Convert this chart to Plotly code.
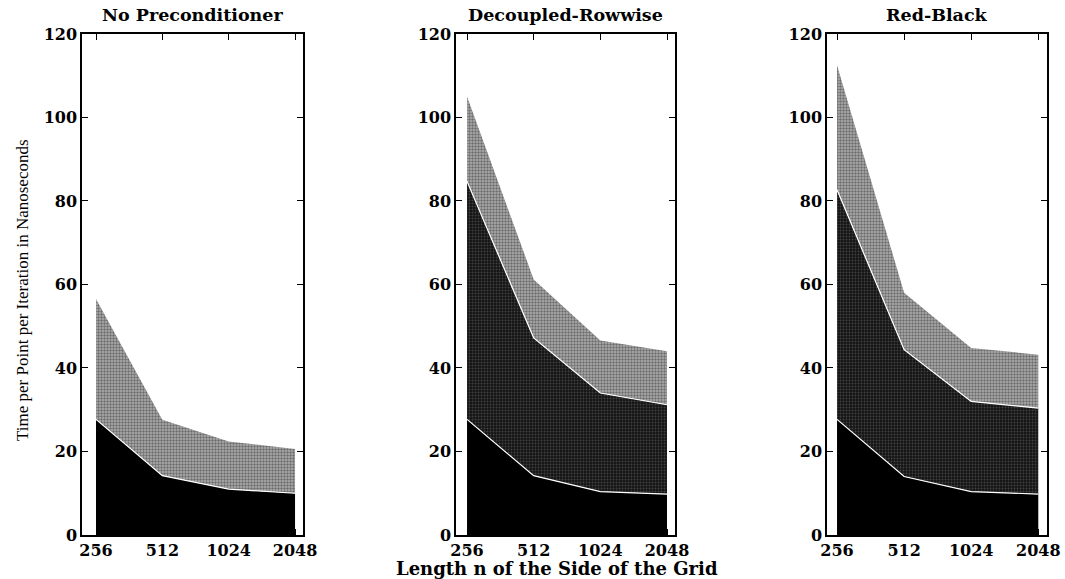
import plotly.graph_objects as go

sizes = ["256", "512", "1024", "2048"]
titles = ["No Preconditioner", "Decoupled-Rowwise", "Red-Black"]

# cumulative boundaries (top of each layer)
none_base = [27.7, 14.2, 11.0, 10.0]
none_total = [56.5, 27.6, 22.4, 20.6]

row_base = [27.7, 14.2, 10.4, 9.8]
row_mid = [84.7, 47.2, 34.0, 31.2]
row_total = [105.0, 61.2, 46.6, 44.0]

rb_base = [27.7, 14.0, 10.4, 9.8]
rb_mid = [82.7, 44.4, 32.0, 30.4]
rb_total = [112.5, 58.0, 44.8, 43.2]

yticks = [0, 20, 40, 60, 80, 100, 120]

panels = [
    [none_base, none_total],
    [row_base, row_mid, row_total],
    [rb_base, rb_mid, rb_total],
]

xdom = [(0.0770, 0.2845), (0.4282, 0.6338), (0.7765, 0.9831)]
xrng = [(-0.211, 3.12), (-0.165, 3.12), (-0.15, 3.13)]
ydom = (0.0760, 0.9413)

SERIF = "DejaVu Serif"

light = dict(fillcolor="#8f8f8f",
             fillpattern=dict(shape=".", bgcolor="#b0b0b0", fgcolor="#2a2a2a", size=3, solidity=0.5))
dark = dict(fillcolor="#1e1e1e",
            fillpattern=dict(shape=".", bgcolor="#141414", fgcolor="#707070", size=3, solidity=0.3))
styles_2 = [dict(fillcolor="black"), light]
styles_3 = [dict(fillcolor="black"), dark, light]

fig = go.Figure()
xs = [0, 1, 2, 3]
for i, layers in enumerate(panels):
    xa = "x" if i == 0 else f"x{i+1}"
    ya = "y" if i == 0 else f"y{i+1}"
    st = styles_2 if len(layers) == 2 else styles_3
    for j, vals in enumerate(layers):
        fig.add_trace(go.Scatter(
            x=xs, y=vals, xaxis=xa, yaxis=ya, mode="lines",
            line=dict(width=0, color="rgba(0,0,0,0)"),
            fill="tozeroy" if j == 0 else "tonexty",
            showlegend=False, hoverinfo="skip", **st[j]))
    for j, vals in enumerate(layers[:-1]):
        fig.add_trace(go.Scatter(
            x=xs, y=vals, xaxis=xa, yaxis=ya, mode="lines",
            line=dict(width=1.2, color="white"),
            showlegend=False, hoverinfo="skip"))

axis_common = dict(showline=True, linecolor="black", linewidth=1.5, mirror="ticks",
                   ticks="inside", ticklen=6, tickcolor="black", tickwidth=1.2,
                   showgrid=False, zeroline=False, automargin=False,
                   tickfont=dict(family=SERIF, size=16, color="black", weight="bold"))

layout = dict(width=1065, height=579, margin=dict(l=0, r=0, t=0, b=0, pad=0),
              autosize=False,
              plot_bgcolor="white", paper_bgcolor="white", showlegend=False,
              hovermode=False)
for i in range(3):
    sx = "" if i == 0 else str(i + 1)
    layout[f"xaxis{sx}"] = dict(domain=list(xdom[i]), range=list(xrng[i]),
                                tickvals=xs, ticktext=sizes, anchor=f"y{sx}",
                                **axis_common)
    layout[f"yaxis{sx}"] = dict(domain=list(ydom), range=[0, 120], tickvals=yticks,
                                anchor=f"x{sx}", **axis_common)
fig.update_layout(**layout)

annotations = []
for i, t in enumerate(titles):
    annotations.append(dict(text=f"<b>{t}</b>", x=(xdom[i][0] + xdom[i][1]) / 2, y=1 - 15 / 579,
                            xref="paper", yref="paper", showarrow=False,
                            font=dict(family=SERIF, size=17.5, color="black"),
                            xanchor="center", yanchor="middle"))
annotations.append(dict(text="<b>Length n of the Side of the Grid</b>", x=557 / 1065, y=1 - 568 / 579,
                        xref="paper", yref="paper", showarrow=False,
                        font=dict(family=SERIF, size=18, color="black"),
                        xanchor="center", yanchor="middle"))
annotations.append(dict(text="Time per Point per Iteration in Nanoseconds", x=22 / 1065, y=1 - 290 / 579,
                        xref="paper", yref="paper", showarrow=False, textangle=-90,
                        font=dict(family="Liberation Serif", size=17, color="black"),
                        xanchor="center", yanchor="middle"))
fig.update_layout(annotations=annotations)

fig.write_html("out.html")
